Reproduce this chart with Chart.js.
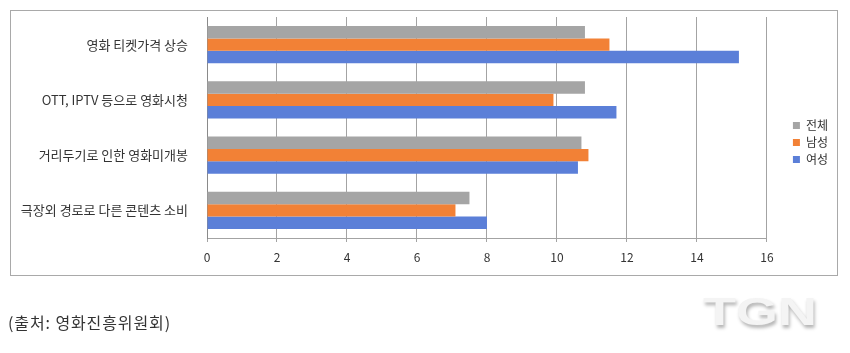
<!DOCTYPE html>
<html>
<head>
<meta charset="utf-8">
<script src="https://cdn.jsdelivr.net/npm/chart.js@4/dist/chart.umd.min.js"></script>
<style>
  html, body { margin: 0; padding: 0; background: #ffffff; }
  body { width: 850px; height: 353px; position: relative; overflow: hidden; font-family: "Noto Sans CJK KR", "Noto Sans", sans-serif; }
  #c { position: absolute; left: 0; top: 0; display: block; }
  #box { position: absolute; left: 10px; top: 10px; width: 828px; height: 266px; border: 1px solid #a9a9a9; box-sizing: border-box; pointer-events: none; }
  #source { position: absolute; left: 8px; top: 312px; font-size: 16px; line-height: 20px; color: #333; letter-spacing: 0.9px; }
  #logo { position: absolute; left: 703px; top: 293px; font-family: "Liberation Sans", Arial, sans-serif; font-weight: bold; font-size: 38px; line-height: 38px; color: #f4f4f4; transform: scaleX(1.42); transform-origin: left top; text-shadow: 1px 3px 3px #b5b5b5; }
</style>
</head>
<body>
<div id="box"></div>
<canvas id="c" width="850" height="353"></canvas>
<div id="source">(출처: 영화진흥위원회)</div>
<div id="logo">TGN</div>
<script>
const categories = ['영화 티켓가격 상승', 'OTT, IPTV 등으로 영화시청', '거리두기로 인한 영화미개봉', '극장외 경로로 다른 콘텐츠 소비'];
const seriesNames = ['전체', '남성', '여성'];
const totalValues = [10.8, 10.8, 10.7, 7.5];
const maleValues = [11.5, 9.9, 10.9, 7.1];
const femaleValues = [15.2, 11.7, 10.6, 8.0];
const xTickValues = [0, 2, 4, 6, 8, 10, 12, 14, 16];
const seriesColors = ['#a5a5a5', '#f28136', '#5b7fd8'];

const ctx = document.getElementById('c');
const chart = new Chart(ctx, {
  type: 'bar',
  data: {
    labels: categories,
    datasets: [
      { label: seriesNames[0], data: totalValues, backgroundColor: seriesColors[0] },
      { label: seriesNames[1], data: maleValues, backgroundColor: seriesColors[1] },
      { label: seriesNames[2], data: femaleValues, backgroundColor: seriesColors[2] }
    ]
  },
  options: {
    indexAxis: 'y',
    responsive: false,
    animation: false,
    maintainAspectRatio: false,
    datasets: { bar: { categoryPercentage: 0.67, barPercentage: 1.0, borderWidth: 0 } },
    layout: { padding: { top: 17, right: 12, left: 12, bottom: 85 } },
    plugins: {
      tooltip: { enabled: false },
      legend: {
        position: 'right',
        align: 'center',
        labels: {
          boxWidth: 7, boxHeight: 7, padding: 5,
          color: '#333', font: { family: '"Noto Sans CJK KR"', size: 12 }
        }
      }
    },
    scales: {
      x: {
        min: 0, max: 16,
        afterBuildTicks: (s) => { s.ticks = xTickValues.map(v => ({ value: v })); },
        afterFit: (s) => { s.height = 30; s.paddingLeft = 0; s.paddingRight = 0; },
        grid: { color: '#a3a3a3', lineWidth: 1, tickLength: 4, drawTicks: true },
        border: { display: true, color: '#a3a3a3', width: 1 },
        ticks: { color: '#333', padding: 8, font: { family: '"Noto Sans CJK KR"', size: 12 } }
      },
      y: {
        afterFit: (s) => { s.width = 195; s.paddingTop = 0; s.paddingBottom = 0; },
        grid: { display: false },
        border: { display: true, color: '#8a8a8a', width: 1 },
        ticks: { color: '#333', padding: 11, font: { family: '"Noto Sans CJK KR"', size: 13 } }
      },
      gap: {
        type: 'linear', axis: 'y', position: 'right', display: true, min: 0, max: 1,
        afterFit: (s) => { s.width = 21; s.paddingTop = 0; s.paddingBottom = 0; },
        grid: { display: false },
        border: { display: false },
        ticks: { display: false }
      }
    }
  }
});
</script>
</body>
</html>
